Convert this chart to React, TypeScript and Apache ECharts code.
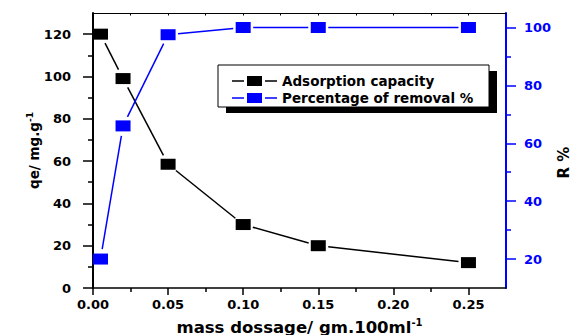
import React, { useEffect, useRef } from "react";
import * as echarts from "echarts";

const massDosage = [0.005, 0.02, 0.05, 0.1, 0.15, 0.25];
const adsorptionCapacity = [120, 99, 58.5, 30, 20, 12];
const removalPercent = [20, 66, 97.5, 100, 100, 100];
const xTickLabels = [0, 0.05, 0.1, 0.15, 0.2, 0.25];
const leftTickLabels = [0, 20, 40, 60, 80, 100, 120];
const rightTickLabels = [20, 40, 60, 80, 100];
const rightMinorTicks = [30, 50, 70, 90];
const topTicks = [0.025, 0.05, 0.075, 0.1, 0.125, 0.15, 0.175, 0.2, 0.225, 0.25];

const BLUE = "#0000ff";
const FONT = "DejaVu Sans";
const legendIcon =
  "path://M0,4.3h12v1.4H0z M15,0h15v10H15z M33,4.3h12v1.4H33z";

function segments(xs: number[], ys: number[]) {
  return xs.slice(0, -1).map((x, i) => [x, ys[i], xs[i + 1], ys[i + 1]]);
}

function gappedLine(color: string, gap: number) {
  return (params: any, api: any) => {
    const p1 = api.coord([api.value(0), api.value(1)]);
    const p2 = api.coord([api.value(2), api.value(3)]);
    const dx = p2[0] - p1[0];
    const dy = p2[1] - p1[1];
    const len = Math.hypot(dx, dy);
    if (len <= gap * 2) return null;
    const ux = dx / len;
    const uy = dy / len;
    return {
      type: "line",
      shape: {
        x1: p1[0] + ux * gap,
        y1: p1[1] + uy * gap,
        x2: p2[0] - ux * gap,
        y2: p2[1] - uy * gap,
      },
      style: { stroke: color, lineWidth: 1.5 },
    };
  };
}

export default function App() {
  const ref = useRef<HTMLDivElement>(null);
  useEffect(() => {
    if (!ref.current) return;
    const chart = echarts.init(ref.current, null, { renderer: "svg" });
    const labelStyle = {
      fontFamily: FONT,
      fontWeight: "bold" as const,
      fontSize: 13,
      color: "#000",
    };
    chart.setOption({
      animation: false,
      backgroundColor: "#fff",
      grid: { left: 93, right: 67, top: 13, bottom: 47, outerBoundsMode: "none", containLabel: false },
      graphic: [
        {
          type: "rect",
          z: 3,
          shape: { x: 226, y: 71, width: 271, height: 42 },
          style: { fill: "#000" },
        },
        {
          type: "rect",
          z: 3,
          shape: { x: 218, y: 65, width: 271, height: 42 },
          style: { fill: "#fff", stroke: "#000", lineWidth: 1 },
        },
      ],
      legend: {
        orient: "vertical",
        left: 232,
        top: 74,
        padding: 0,
        itemGap: 3,
        itemWidth: 45,
        itemHeight: 10,
        z: 5,
        textStyle: { ...labelStyle, fontSize: 13.5, lineHeight: 14 },
        data: [
          { name: "Adsorption capacity", icon: legendIcon },
          { name: "Percentage of removal %", icon: legendIcon },
        ],
      },
      xAxis: [
        {
          type: "value",
          position: "bottom",
          min: 0,
          max: 0.275,
          interval: 0.05,
          splitLine: { show: false },
          axisLine: { onZero: false, lineStyle: { color: "#000", width: 1.5 } },
          axisTick: {
            customValues: xTickLabels,
            length: 7,
            lineStyle: { color: "#000", width: 1.5 },
          },
          minorTick: {
            show: true,
            splitNumber: 2,
            length: 4,
            lineStyle: { color: "#000", width: 1.5 },
          },
          axisLabel: {
            ...labelStyle,
            customValues: xTickLabels,
            margin: 10,
            formatter: (v: number) => v.toFixed(2),
          },
          name: "{b|mass dossage/ gm.100ml}{s|-1}",
          nameLocation: "middle",
          nameGap: 29,
          nameMoveOverlap: false,
          nameTextStyle: {
            rich: {
              b: { fontFamily: FONT, fontWeight: "bold", fontSize: 16.5, lineHeight: 20, color: "#000" },
              s: { fontFamily: FONT, fontWeight: "bold", fontSize: 10, lineHeight: 10, verticalAlign: "top", color: "#000" },
            },
          },
        },
        {
          type: "value",
          position: "top",
          min: 0,
          max: 0.275,
          interval: 0.05,
          splitLine: { show: false },
          axisLine: { onZero: false, lineStyle: { color: "#000", width: 1 } },
          axisTick: {
            customValues: topTicks,
            inside: true,
            length: 2.5,
            lineStyle: { color: "#000", width: 1 },
          },
          axisLabel: { show: false },
        },
      ],
      yAxis: [
        {
          type: "value",
          position: "left",
          min: 0,
          max: 130,
          interval: 20,
          splitLine: { show: false },
          axisLine: { onZero: false, lineStyle: { color: "#000", width: 2 } },
          axisTick: {
            customValues: leftTickLabels,
            length: 10,
            lineStyle: { color: "#000", width: 1.5 },
          },
          minorTick: {
            show: true,
            splitNumber: 2,
            length: 5,
            lineStyle: { color: "#000", width: 1.5 },
          },
          axisLabel: { ...labelStyle, customValues: leftTickLabels, margin: 22 },
          name: "{b|qe/ mg.g}{s|-1}",
          nameLocation: "middle",
          nameGap: 50,
          nameMoveOverlap: false,
          nameRotate: 90,
          nameTextStyle: {
            rich: {
              b: { fontFamily: FONT, fontWeight: "bold", fontSize: 13.5, lineHeight: 18, color: "#000" },
              s: { fontFamily: FONT, fontWeight: "bold", fontSize: 9, lineHeight: 9, verticalAlign: "top", color: "#000" },
            },
          },
        },
        {
          type: "value",
          position: "right",
          min: 10,
          max: 105,
          interval: 20,
          splitLine: { show: false },
          axisLine: { onZero: false, lineStyle: { color: BLUE, width: 2 } },
          axisTick: {
            customValues: rightMinorTicks,
            length: 5,
            lineStyle: { color: BLUE, width: 1.5 },
          },
          minorTick: {
            show: true,
            splitNumber: 2,
            length: 10,
            lineStyle: { color: BLUE, width: 1.5 },
          },
          axisLabel: {
            ...labelStyle,
            color: BLUE,
            customValues: rightTickLabels,
            margin: 18,
          },
          name: "R %",
          nameLocation: "middle",
          nameGap: 50,
          nameMoveOverlap: false,
          nameRotate: 90,
          nameTextStyle: {
            fontFamily: FONT,
            fontWeight: "bold",
            fontSize: 15,
            color: "#000",
            padding: [0, 24, 0, 0],
          },
        },
      ],
      series: [
        {
          type: "custom",
          xAxisIndex: 0,
          yAxisIndex: 0,
          z: 2,
          silent: true,
          encode: { x: [0, 2], y: [1, 3] },
          renderItem: gappedLine("#000", 10),
          data: segments(massDosage, adsorptionCapacity),
        },
        {
          type: "custom",
          xAxisIndex: 0,
          yAxisIndex: 1,
          z: 2,
          silent: true,
          encode: { x: [0, 2], y: [1, 3] },
          renderItem: gappedLine(BLUE, 10),
          data: segments(massDosage, removalPercent),
        },
        {
          name: "Adsorption capacity",
          type: "scatter",
          xAxisIndex: 0,
          yAxisIndex: 0,
          z: 3,
          symbol: "rect",
          symbolSize: [15, 11],
          itemStyle: { color: "#000", opacity: 1 },
          data: massDosage.map((x, i) => [x, adsorptionCapacity[i]]),
        },
        {
          name: "Percentage of removal %",
          type: "scatter",
          xAxisIndex: 0,
          yAxisIndex: 1,
          z: 3,
          symbol: "rect",
          symbolSize: [15, 11],
          itemStyle: { color: BLUE, opacity: 1 },
          data: massDosage.map((x, i) => [x, removalPercent[i]]),
        },
      ],
    });
    return () => chart.dispose();
  }, []);
  return <div ref={ref} style={{ width: 573, height: 335, position: "fixed", left: 0, top: 0 }} />;
}
